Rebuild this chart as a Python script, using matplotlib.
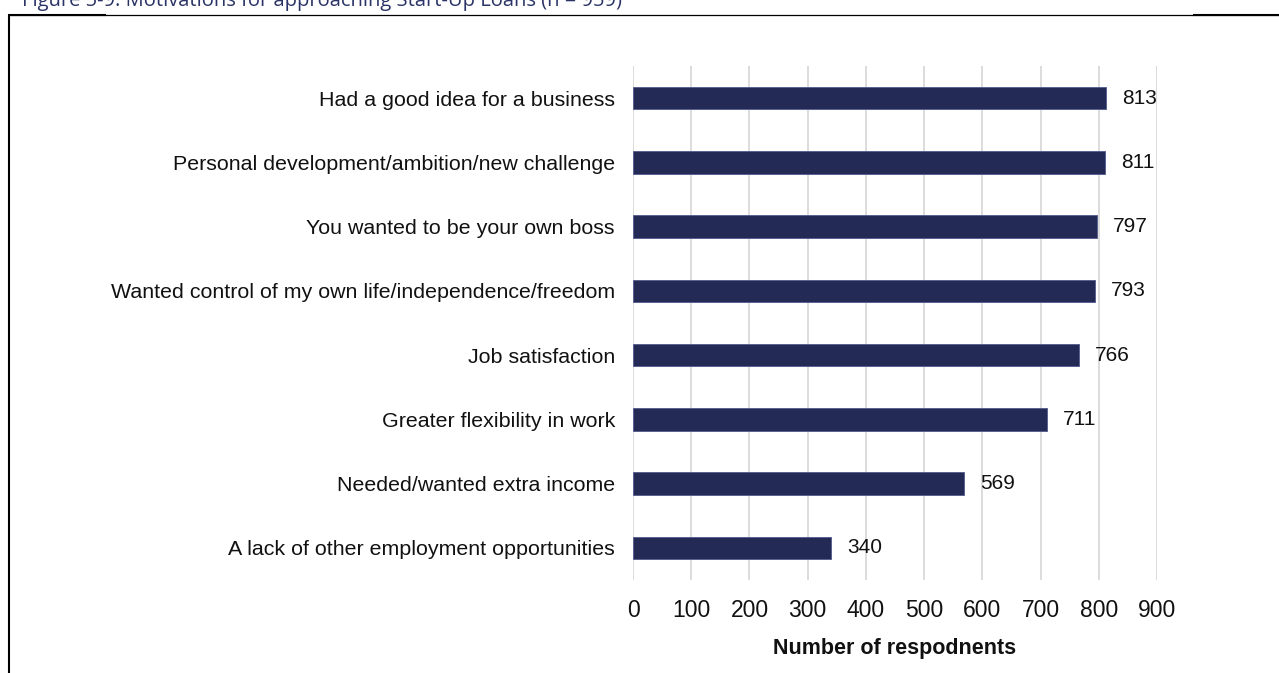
import matplotlib
matplotlib.use("Agg")
import matplotlib.pyplot as plt
from matplotlib.lines import Line2D

# Survey data: reasons for approaching Start-Up Loans
categories = [
    "Had a good idea for a business",
    "Personal development/ambition/new challenge",
    "You wanted to be your own boss",
    "Wanted control of my own life/independence/freedom",
    "Job satisfaction",
    "Greater flexibility in work",
    "Needed/wanted extra income",
    "A lack of other employment opportunities",
]
respondents = [813, 811, 797, 793, 766, 711, 569, 340]
x_ticks = [0, 100, 200, 300, 400, 500, 600, 700, 800, 900]

title = "Figure 5-9: Motivations for approaching Start-Up Loans (n = 959)"
x_label = "Number of respodnents"

plt.rcParams["font.family"] = ["Liberation Sans", "DejaVu Sans"]

W, H = 1279, 673
fig = plt.figure(figsize=(W / 100, H / 100), dpi=100)

def px_x(x):
    return x / W

def px_y(y):
    return 1 - y / H

# Plot area in pixel coordinates
left, right, top, bottom = 633, 1157, 66, 580
ax = fig.add_axes([px_x(left), px_y(bottom), px_x(right - left), (bottom - top) / H])

bar_color = "#232a55"
ypos = list(range(len(categories)))
ax.barh(ypos, respondents, height=0.35, color=bar_color,
        edgecolor="#5a6290", linewidth=0.7, zorder=3)

for y, v in zip(ypos, respondents):
    ax.annotate(f"{v}", xy=(v, y), xytext=(11.5, 0), textcoords="offset points",
                va="center", ha="left", fontsize=15, color="#111111")

ax.set_ylim(len(categories) - 0.5, -0.5)
ax.set_xlim(0, 900)
ax.set_yticks(ypos)
ax.set_yticklabels(categories, fontsize=15.4, color="#111111")
ax.set_xticks(x_ticks)
ax.set_xticklabels([str(t) for t in x_ticks], fontsize=16.5, color="#111111")
ax.tick_params(axis="both", length=0)
ax.tick_params(axis="x", pad=13.5)
ax.tick_params(axis="y", pad=13)
ax.xaxis.grid(True, color="#d9d9d9", linewidth=1.3, zorder=0)
ax.set_axisbelow(True)
for s in ax.spines.values():
    s.set_visible(False)
ax.set_xlabel(x_label, fontsize=15.5, fontweight="bold", labelpad=12, color="#111111")

# Frame lines around the figure block
fig.add_artist(Line2D([px_x(9), px_x(9)], [px_y(15), px_y(H + 2)],
                      color="black", linewidth=1.5, solid_capstyle="butt"))
fig.add_artist(Line2D([px_x(8), px_x(W)], [px_y(14.5), px_y(14.5)],
                      color="black", linewidth=0.9, solid_capstyle="butt"))
fig.add_artist(Line2D([px_x(8), px_x(106)], [px_y(15.3), px_y(15.3)],
                      color="black", linewidth=1.5, solid_capstyle="butt"))
fig.add_artist(Line2D([px_x(1193), px_x(W)], [px_y(15.3), px_y(15.3)],
                      color="black", linewidth=1.5, solid_capstyle="butt"))

# Caption sitting above the frame
fig.text(px_x(22), px_y(6), title, fontsize=14.5, color="#2b3467",
         family=["Open Sans", "DejaVu Sans"], ha="left", va="baseline")

fig.savefig("out.png", dpi=100)
